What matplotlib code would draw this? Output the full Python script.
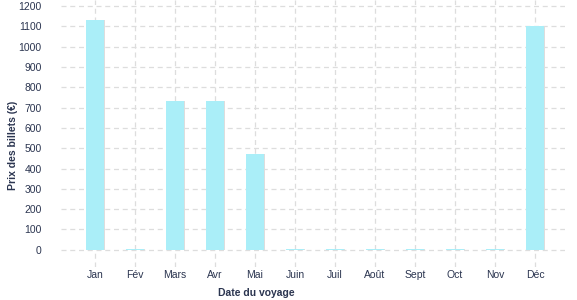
import matplotlib.pyplot as plt
import numpy as np

months = ["Jan", "Fév", "Mars", "Avr", "Mai", "Juin", "Juil", "Août",
          "Sept", "Oct", "Nov", "Déc"]
prices = [1130, 5, 735, 735, 470, 3, 3, 3, 3, 3, 3, 1100]
yticks = list(range(0, 1201, 100))

plt.rcParams["font.family"] = ["Liberation Sans", "DejaVu Sans"]
text_color = "#2b3550"

fig = plt.figure(figsize=(5.77, 3.0), dpi=100)
ax = fig.add_axes([61 / 577, 33 / 300, 504 / 577, 267 / 300])

x = np.arange(len(months))
# faint shadow on the right edge of each bar
ax.bar(x + 0.03, prices, width=0.43, color="#dddddd", zorder=2)
ax.bar(x, prices, width=0.43, color="#aaeef8", zorder=3)

ax.set_xlim(-0.85, 11.75)
ax.set_ylim(-85, 1230)
ax.set_xticks(x)
ax.set_xticklabels(months)
ax.set_yticks(yticks)

ax.grid(True, color="#dddddd", linestyle=(0, (4, 3)), linewidth=0.9, zorder=0)
for s in ax.spines.values():
    s.set_visible(False)
ax.tick_params(length=0, labelsize=7.5, colors=text_color)
ax.tick_params(axis="x", pad=2.5)
ax.tick_params(axis="y", pad=14)

fig.text(256 / 577, 7 / 300, "Date du voyage", ha="center", va="center",
         fontsize=7.5, fontweight="bold", color=text_color)
fig.text(13 / 577, 155 / 300, "Prix des billets (€)", ha="center", va="center",
         rotation=90, fontsize=7.5, fontweight="bold", color=text_color)

fig.savefig("out.png", dpi=100)
